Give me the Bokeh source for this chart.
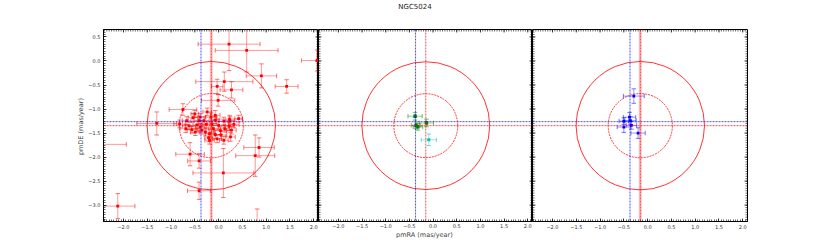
import numpy as np
from bokeh.plotting import figure
from bokeh.models import (ColumnDataSource, Span, LinearAxis, FixedTicker,
                          CustomJSTickFormatter, Range1d, Div)
from bokeh.layouts import row, column
from bokeh.embed import file_html
from bokeh.resources import INLINE

TITLE = "NGC5024"
X_LABEL = "pmRA  (mas/year)"
Y_LABEL = "pmDE  (mas/year)"
X_TICKS = [-2.0, -1.5, -1.0, -0.5, 0.0, 0.5, 1.0, 1.5, 2.0]
Y_TICKS = [-3.0, -2.5, -2.0, -1.5, -1.0, -0.5, 0.0, 0.5]
X_RANGE = [-2.42, 2.10]
Y_RANGE = [-3.34, 0.655]

CLUSTER_PMRA = -0.154
CLUSTER_PMDE = -1.346
REF_PMRA = -0.37
REF_PMDE = -1.263
R_OUTER = 1.35
R_INNER = 0.675

# panel 1: red stars (pmRA, pmDE, err_pmRA, err_pmDE)
RED_PMRA = [0.22, 0.59, 2.07, 0.90, 1.43, 0.12, -0.03, 0.27, -0.01, -0.75,
            -1.30, -2.50, -2.12, -0.60, -0.41, 0.10, 0.77, 0.85, -0.41, 0.81,
            -0.82, -0.54, -0.50, -0.39, -0.62, -0.56, -0.45, -0.31, -0.24, -0.16,
            -0.07, 0.00, -0.11, -0.19, -0.21, -0.07, -0.03, 0.04, 0.13, 0.22,
            0.24, 0.42, 0.25, -0.39, -0.28, -0.14, -0.26, 0.05, -0.35, -0.07,
            0.11, -0.41, -0.67, -0.49, -0.69, -0.19, 0.11, 0.32, 0.27, 0.23]
RED_PMDE = [0.35, 0.22, 0.01, -0.31, -0.53, -0.43, -0.53, -0.60, -0.82, -1.01,
            -1.30, -1.735, -3.02, -1.94, -2.08, -2.33, -1.97, -1.80, -2.70, -3.55,
            -1.31, -1.18, -1.10, -1.17, -1.35, -1.43, -1.33, -1.24, -1.06, -1.17,
            -1.13, -1.34, -1.41, -1.51, -1.60, -1.53, -1.62, -1.45, -1.41, -1.36,
            -1.24, -1.20, -1.58, -1.38, -1.48, -1.31, -1.32, -1.54, -1.44, -1.23,
            -1.25, -1.24, -1.24, -1.48, -1.41, -1.65, -1.65, -1.32, -1.44, -1.21]
RED_EPMRA = [0.65, 0.66, 0.33, 0.32, 0.24, 0.60, 0.12, 0.24, 0.35, 0.29,
             0.42, 0.56, 0.36, 0.30, 0.24, 0.64, 0.41, 0.32, 0.245, 0.30,
             0.12, 0.10, 0.08, 0.12, 0.14, 0.10, 0.09, 0.11, 0.09, 0.12,
             0.10, 0.14, 0.10, 0.09, 0.08, 0.11, 0.09, 0.12, 0.10, 0.11,
             0.09, 0.08, 0.10, 0.10, 0.13, 0.10, 0.08, 0.12, 0.09, 0.08,
             0.10, 0.11, 0.09, 0.10, 0.12, 0.10, 0.09, 0.11, 0.10, 0.27]
RED_EPMDE = [0.55, 0.45, 0.22, 0.25, 0.14, 0.20, 0.15, 0.17, 0.12, 0.12,
             0.24, 0.20, 0.26, 0.24, 0.15, 0.51, 0.43, 0.20, 0.18, 0.47,
             0.08, 0.09, 0.07, 0.08, 0.08, 0.07, 0.08, 0.08, 0.08, 0.09,
             0.10, 0.08, 0.07, 0.09, 0.08, 0.09, 0.08, 0.08, 0.07, 0.09,
             0.08, 0.07, 0.09, 0.08, 0.08, 0.08, 0.07, 0.08, 0.08, 0.07,
             0.08, 0.09, 0.08, 0.07, 0.08, 0.08, 0.08, 0.07, 0.08, 0.08]

# panel 2: green and cyan stars
GREEN_PMRA = [-0.38, -0.14, -0.36, -0.32]
GREEN_PMDE = [-1.15, -1.29, -1.34, -1.37]
GREEN_EPMRA = [0.15, 0.15, 0.10, 0.10]
GREEN_EPMDE = [0.08, 0.08, 0.07, 0.07]
CYAN_PMRA = [-0.09]
CYAN_PMDE = [-1.64]
CYAN_EPMRA = [0.16]
CYAN_EPMDE = [0.12]

# panel 3: blue stars
BLUE_PMRA = [-0.29, -0.38, -0.50, -0.36, -0.34, -0.50, -0.20]
BLUE_PMDE = [-0.73, -1.17, -1.25, -1.24, -1.34, -1.375, -1.50]
BLUE_EPMRA = [0.22, 0.13, 0.10, 0.12, 0.11, 0.14, 0.15]
BLUE_EPMDE = [0.15, 0.10, 0.07, 0.08, 0.08, 0.11, 0.11]

FONT = "DejaVu Sans"
FRAME_W = 215
TITLE_H = 14
TOP = 15
BOTTOM = 24
HEIGHT = TOP + 192 + BOTTOM

minor_x = [round(v, 3) for v in np.arange(-2.5, 2.51, 0.05)]
minor_y = [round(v, 3) for v in np.arange(-3.5, 1.01, 0.05)]
minor_x_in = [v for v in minor_x if X_RANGE[0] < v < X_RANGE[1]]
minor_y_in = [v for v in minor_y if Y_RANGE[0] < v < Y_RANGE[1]]
fmt = CustomJSTickFormatter(code="return tick.toFixed(1).replace('-', '\u2212');")


def add_axis(p, side, ticks, minor):
    ax = LinearAxis(ticker=FixedTicker(ticks=ticks, minor_ticks=minor), formatter=fmt)
    ax.major_tick_in = 3
    ax.major_tick_out = 0
    ax.minor_tick_in = 2
    ax.minor_tick_out = 0
    ax.axis_line_color = "black"
    ax.axis_line_width = 1
    ax.major_tick_line_width = 0.7
    ax.minor_tick_line_width = 0.6
    ax.major_label_text_font = FONT
    ax.major_label_text_color = "#333333"
    ax.major_label_text_font_size = "5px"
    ax.major_label_standoff = 3
    p.add_layout(ax, side)
    return ax


def edge_ticks(p, sides):
    """Inward tick marks on frame edges that carry no labels."""
    for side in sides:
        if side in ("top",):
            ey = Y_RANGE[1]
            p.scatter(x=X_TICKS, y=[ey] * len(X_TICKS), marker="dash", angle=np.pi / 2,
                      size=6, line_color="black", line_width=0.7)
            p.scatter(x=minor_x_in, y=[ey] * len(minor_x_in), marker="dash",
                      angle=np.pi / 2, size=4, line_color="black", line_width=0.6)
        else:
            ex = X_RANGE[0] if side == "left" else X_RANGE[1]
            p.scatter(x=[ex] * len(Y_TICKS), y=Y_TICKS, marker="dash",
                      size=6, line_color="black", line_width=0.7)
            p.scatter(x=[ex] * len(minor_y_in), y=minor_y_in, marker="dash",
                      size=4, line_color="black", line_width=0.6)


def make_fig(width, left_border, right_border):
    p = figure(width=width, height=HEIGHT,
               x_range=Range1d(*X_RANGE), y_range=Range1d(*Y_RANGE),
               output_backend="svg", toolbar_location=None,
               x_axis_location=None, y_axis_location=None,
               min_border_left=left_border, min_border_right=right_border,
               min_border_top=TOP, min_border_bottom=BOTTOM)
    p.grid.grid_line_color = None
    p.outline_line_color = "black"
    p.outline_line_width = 1
    p.background_fill_color = "white"
    p.border_fill_color = "white"
    return p


def draw_refs(p, band):
    p.circle(x=[CLUSTER_PMRA], y=[CLUSTER_PMDE], radius=R_OUTER,
             fill_color=None, line_color="red", line_width=0.8)
    p.circle(x=[CLUSTER_PMRA], y=[CLUSTER_PMDE], radius=R_INNER,
             fill_color=None, line_color="red", line_width=0.8, line_dash="2 1")
    if band:
        p.add_layout(Span(location=CLUSTER_PMRA, dimension="height",
                          line_color="red", line_alpha=0.22, line_width=3))
    p.add_layout(Span(location=REF_PMRA, dimension="height", line_color="blue",
                      line_dash="2 1", line_width=0.7))
    p.add_layout(Span(location=CLUSTER_PMRA, dimension="height", line_color="red",
                      line_dash="2 1", line_width=0.7))
    p.add_layout(Span(location=REF_PMDE, dimension="width", line_color="blue",
                      line_dash="2 1", line_width=0.7))
    p.add_layout(Span(location=CLUSTER_PMDE, dimension="width", line_color="red",
                      line_dash="2 1", line_width=0.7))


def draw_stars(p, xs, ys, exs, eys, color, marker, size):
    x = np.array(xs, dtype=float)
    y = np.array(ys, dtype=float)
    ex = np.array(exs, dtype=float)
    ey = np.array(eys, dtype=float)
    src = ColumnDataSource(dict(x=x, y=y, xl=x - ex, xh=x + ex, yl=y - ey, yh=y + ey))
    p.segment(x0="xl", y0="y", x1="xh", y1="y", source=src,
              line_color=color, line_alpha=0.4, line_width=1)
    p.segment(x0="x", y0="yl", x1="x", y1="yh", source=src,
              line_color=color, line_alpha=0.4, line_width=1)
    for cx, cy, ang in (("xl", "y", np.pi / 2), ("xh", "y", np.pi / 2),
                        ("x", "yl", 0), ("x", "yh", 0)):
        p.scatter(x=cx, y=cy, source=src, marker="dash", size=4.5, angle=ang,
                  line_color=color, line_alpha=0.55, line_width=1)
    p.scatter(x="x", y="y", source=src, marker=marker, size=size,
              fill_color=color, line_color=None)


p1 = make_fig(103 + FRAME_W, 103, 0)
p2 = make_fig(FRAME_W - 1, 0, 0)
p3 = make_fig(FRAME_W + 60, 0, 60)

for p in (p1, p2, p3):
    add_axis(p, "below", X_TICKS, minor_x)
yax = add_axis(p1, "left", Y_TICKS, minor_y)

edge_ticks(p1, ["top", "right"])
edge_ticks(p2, ["top", "left", "right"])
edge_ticks(p3, ["top", "left", "right"])

draw_refs(p1, True)
draw_refs(p2, False)
draw_refs(p3, True)

draw_stars(p1, RED_PMRA, RED_PMDE, RED_EPMRA, RED_EPMDE, "red", "square", 2.8)
draw_stars(p2, GREEN_PMRA, GREEN_PMDE, GREEN_EPMRA, GREEN_EPMDE, "green", "square", 3.5)
draw_stars(p2, CYAN_PMRA, CYAN_PMDE, CYAN_EPMRA, CYAN_EPMDE, "#00bfbf", "square", 3)
draw_stars(p3, BLUE_PMRA, BLUE_PMDE, BLUE_EPMRA, BLUE_EPMDE, "blue", "square", 2.8)

yax.axis_label = Y_LABEL
yax.axis_label_text_font = FONT
yax.axis_label_text_font_size = "6.5px"
yax.axis_label_text_font_style = "normal"
yax.axis_label_text_line_height = 1.0
yax.axis_label_standoff = 0

xax = p2.below[0]
xax.axis_label = X_LABEL
xax.axis_label_text_font = FONT
xax.axis_label_text_font_size = "6.5px"
xax.axis_label_text_font_style = "normal"
xax.axis_label_text_line_height = 1.0
xax.axis_label_standoff = 0
xax.major_label_standoff = 2

title_div = Div(text=TITLE, width=830, height=TITLE_H,
                styles={"font-family": FONT, "font-size": "7px", "color": "#222222",
                        "text-align": "center", "line-height": "14px",
                        "margin": "0", "padding": "0"})

layout = column(title_div, row(p1, p2, p3))
open("out.html", "w").write(file_html(layout, INLINE))
